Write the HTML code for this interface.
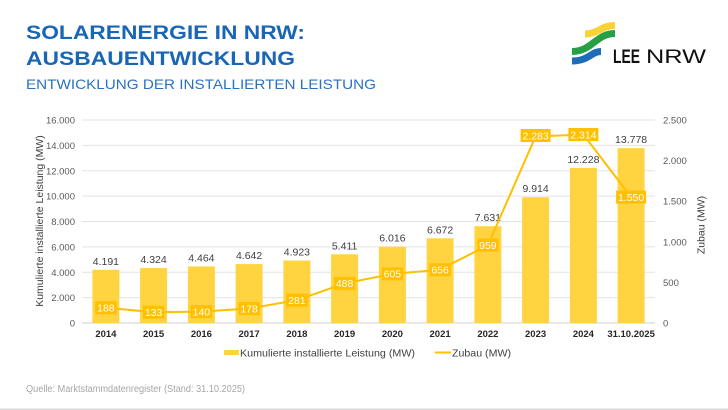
<!DOCTYPE html>
<html><head><meta charset="utf-8"><style>
html,body{margin:0;padding:0;background:#fff;}
svg{display:block;}
text{font-family:"Liberation Sans",Arial,sans-serif;}
</style></head><body>
<svg width="728" height="410" viewBox="0 0 728 410" xmlns="http://www.w3.org/2000/svg">
<rect width="728" height="410" fill="#fff"/>
<!-- Titles -->
<text x="26" y="39" font-size="19.5" font-weight="bold" fill="#1a66b6" textLength="279" lengthAdjust="spacingAndGlyphs">SOLARENERGIE IN NRW:</text>
<text x="26" y="65" font-size="19.5" font-weight="bold" fill="#1a66b6" textLength="269" lengthAdjust="spacingAndGlyphs">AUSBAUENTWICKLUNG</text>
<text x="26" y="89" font-size="14" fill="#2a72c0" textLength="350" lengthAdjust="spacingAndGlyphs">ENTWICKLUNG DER INSTALLIERTEN LEISTUNG</text>
<!-- Logo -->
<path d="M585,34 C598,34 601,25.5 615,25.5" stroke="#f9d236" stroke-width="7" fill="none"/>
<path d="M572,51.5 C592,51.5 596,33.5 615,33.5" stroke="#27a045" stroke-width="7" fill="none"/>
<path d="M572,61 C589,61 591,51.5 601,51.5" stroke="#1e6db8" stroke-width="7" fill="none"/>
<text x="613" y="63" font-size="19.5" font-weight="bold" fill="#111" textLength="27" lengthAdjust="spacingAndGlyphs">LEE</text>
<text x="646" y="63" font-size="19.5" fill="#111" textLength="60" lengthAdjust="spacingAndGlyphs">NRW</text>
<!-- Gridlines -->
<g stroke="#e3e3e3" stroke-width="1">
<line x1="82" x2="655" y1="120" y2="120"/>
<line x1="82" x2="655" y1="145.4" y2="145.4"/>
<line x1="82" x2="655" y1="170.8" y2="170.8"/>
<line x1="82" x2="655" y1="196.1" y2="196.1"/>
<line x1="82" x2="655" y1="221.5" y2="221.5"/>
<line x1="82" x2="655" y1="246.9" y2="246.9"/>
<line x1="82" x2="655" y1="272.3" y2="272.3"/>
<line x1="82" x2="655" y1="297.6" y2="297.6"/>
</g>
<line x1="82" x2="655" y1="323" y2="323" stroke="#d0d0d0" stroke-width="1"/>
<!-- Left ticks -->
<g font-size="9.5" fill="#595959" text-anchor="end">
<text x="75" y="123.5">16.000</text>
<text x="75" y="148.9">14.000</text>
<text x="75" y="174.3">12.000</text>
<text x="75" y="199.6">10.000</text>
<text x="75" y="225">8.000</text>
<text x="75" y="250.4">6.000</text>
<text x="75" y="275.8">4.000</text>
<text x="75" y="301.1">2.000</text>
<text x="75" y="326.5">0</text>
</g>
<!-- Right ticks -->
<g font-size="9.5" fill="#595959" text-anchor="start">
<text x="663" y="123.5">2.500</text>
<text x="663" y="164.1">2.000</text>
<text x="663" y="204.7">1.500</text>
<text x="663" y="245.3">1.000</text>
<text x="663" y="285.9">500</text>
<text x="663" y="326.5">0</text>
</g>
<!-- Axis titles -->
<text transform="translate(43,221) rotate(-90)" font-size="10.5" fill="#404040" text-anchor="middle">Kumulierte installierte Leistung (MW)</text>
<text transform="translate(704.5,225) rotate(-90)" font-size="10.5" fill="#404040" text-anchor="middle">Zubau (MW)</text>
<!-- Bars -->
<g fill="#ffd440">
<rect x="92.4" y="269.8" width="27" height="53.2"/>
<rect x="140.1" y="268.1" width="27" height="54.9"/>
<rect x="187.9" y="266.4" width="27" height="56.6"/>
<rect x="235.6" y="264.1" width="27" height="58.9"/>
<rect x="283.4" y="260.5" width="27" height="62.5"/>
<rect x="331.1" y="254.3" width="27" height="68.7"/>
<rect x="378.9" y="246.7" width="27" height="76.3"/>
<rect x="426.6" y="238.3" width="27" height="84.7"/>
<rect x="474.4" y="226.2" width="27" height="96.8"/>
<rect x="522.1" y="197.2" width="27" height="125.8"/>
<rect x="569.9" y="167.9" width="27" height="155.1"/>
<rect x="617.6" y="148.2" width="27" height="174.8"/>
</g>
<!-- Bar labels -->
<g font-size="10.5" fill="#404040" text-anchor="middle">
<text x="105.9" y="264.8">4.191</text>
<text x="153.6" y="263.1">4.324</text>
<text x="201.4" y="261.4">4.464</text>
<text x="249.1" y="259.1">4.642</text>
<text x="296.9" y="255.5">4.923</text>
<text x="344.6" y="249.3">5.411</text>
<text x="392.4" y="241.7">6.016</text>
<text x="440.1" y="233.3">6.672</text>
<text x="487.9" y="221.2">7.631</text>
<text x="535.6" y="192.2">9.914</text>
<text x="583.4" y="162.9">12.228</text>
<text x="631.1" y="143.2">13.778</text>
</g>
<!-- Line -->
<polyline fill="none" stroke="#ffc000" stroke-width="2" points="105.9,307.7 153.6,312.2 201.4,311.6 249.1,308.5 296.9,300.2 344.6,283.4 392.4,273.9 440.1,269.7 487.9,245.1 535.6,136.5 583.4,134.5 631.1,197.1"/>
<!-- Line labels -->
<g fill="#ffc000">
<rect x="95.2" y="301.2" width="21.5" height="13"/>
<rect x="142.9" y="305.7" width="21.5" height="13"/>
<rect x="190.7" y="305.1" width="21.5" height="13"/>
<rect x="238.4" y="302" width="21.5" height="13"/>
<rect x="286.2" y="293.7" width="21.5" height="13"/>
<rect x="333.9" y="276.9" width="21.5" height="13"/>
<rect x="381.7" y="267.4" width="21.5" height="13"/>
<rect x="429.4" y="263.2" width="21.5" height="13"/>
<rect x="477.2" y="238.6" width="21.5" height="13"/>
<rect x="520.6" y="129" width="30" height="13"/>
<rect x="568.4" y="128" width="30" height="13"/>
<rect x="616.1" y="190.6" width="30" height="13"/>
</g>
<g font-size="10.5" fill="#fff" text-anchor="middle">
<text x="105.9" y="311.5">188</text>
<text x="153.6" y="316">133</text>
<text x="201.4" y="315.4">140</text>
<text x="249.1" y="312.3">178</text>
<text x="296.9" y="304">281</text>
<text x="344.6" y="287.2">488</text>
<text x="392.4" y="277.7">605</text>
<text x="440.1" y="273.5">656</text>
<text x="487.9" y="248.9">959</text>
<text x="535.6" y="139.3">2.283</text>
<text x="583.4" y="138.3">2.314</text>
<text x="631.1" y="200.9">1.550</text>
</g>
<!-- X labels -->
<g font-size="9.5" font-weight="bold" fill="#262626" text-anchor="middle">
<text x="105.9" y="337">2014</text>
<text x="153.6" y="337">2015</text>
<text x="201.4" y="337">2016</text>
<text x="249.1" y="337">2017</text>
<text x="296.9" y="337">2018</text>
<text x="344.6" y="337">2019</text>
<text x="392.4" y="337">2020</text>
<text x="440.1" y="337">2021</text>
<text x="487.9" y="337">2022</text>
<text x="535.6" y="337">2023</text>
<text x="583.4" y="337">2024</text>
<text x="631.1" y="337">31.10.2025</text>
</g>
<!-- Legend -->
<rect x="224" y="350" width="15" height="5" fill="#ffd440"/>
<text x="240" y="356.5" font-size="10.5" fill="#404040" textLength="175" lengthAdjust="spacingAndGlyphs">Kumulierte installierte Leistung (MW)</text>
<line x1="435" x2="451" y1="352.5" y2="352.5" stroke="#ffc000" stroke-width="2"/>
<text x="452" y="356.5" font-size="10.5" fill="#404040" textLength="59" lengthAdjust="spacingAndGlyphs">Zubau (MW)</text>
<!-- Footer -->
<text x="26" y="392" font-size="10" fill="#a6a6a6" textLength="219" lengthAdjust="spacingAndGlyphs">Quelle: Marktstammdatenregister (Stand: 31.10.2025)</text>
<line x1="0" x2="728" y1="409.3" y2="409.3" stroke="#d9d9d9" stroke-width="1.5"/>
</svg>
</body></html>
